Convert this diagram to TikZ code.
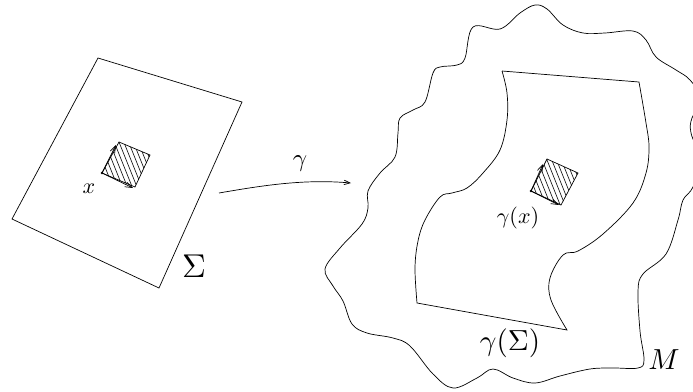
\documentclass[tikz,border=0pt]{standalone}
\usetikzlibrary{arrows.meta}
\tikzset{
  edge/.style={line width=.7pt},
  hatch/.style={line width=.6pt},
  vec/.style={-{Straight Barb[length=7pt,width=5pt]},line width=.7pt},
  map/.style={-{Straight Barb[length=6pt,width=4.5pt]},line width=.7pt},
  lbl/.style={inner sep=0pt}
}

\begin{document}
\begin{tikzpicture}[x=1pt,y=-1pt]
        \useasboundingbox (0,0) rectangle (693,391);
        \clip (0,0) rectangle (693,391);
        % parameter domain
        \draw[edge] (98,58) -- (242,102) -- (159,288) -- (12,219) -- cycle;
        \coordinate (p0) at (102,173); \coordinate (p1) at (119,142);
        \coordinate (p2) at (150,155); \coordinate (p3) at (135,187);
        \coordinate (pu) at (116,145); \coordinate (pv) at (133,188);
        \begin{scope}
          \clip (p0) -- (p1) -- (p2) -- (p3) -- cycle;
          \foreach \i in {-6,...,12} \draw[hatch] (95+\i*4.8,130) -- ++(26,65);
        \end{scope}
        \draw[edge] (p0) -- (p1) -- (p2) -- (p3) -- cycle;
        \fill (p0) circle (1.3pt);
        \draw[vec] (p0) -- (pu); \draw[vec] (p0) -- (pv);
        \node[lbl,scale=2.2] (xlab) at (89,189) {$x$};
        \node[lbl,scale=3.3] (sigma) at (194,266) {$\Sigma$};
        % the map
        \coordinate (mapfrom) at (219,193); \coordinate (mapto) at (351,183);
        \draw[map] (mapfrom) .. controls (265,185) and (305,179) .. (mapto);
        \node[lbl,scale=2.5] (gam) at (300,164) {$\gamma$};
        % manifold
        \draw[edge] plot[smooth cycle,tension=.6] coordinates {
          (473,27) (500,29) (520,13) (535,5) (547,9) (563,25) (583,33) (605,33)
          (633,31) (646,40) (656,57) (676,70) (690,80) (702,100) (692,118) (691,133)
          (700,160) (693,187) (683,200) (678,220) (666,254) (643,274) (638,291)
          (640,331) (644,360) (638,368) (613,368) (590,369) (560,376) (535,383)
          (513,378) (493,369) (477,378) (453,388) (433,374) (410,346) (393,338)
          (367,333) (352,324) (343,301) (333,286) (325,269) (340,248) (362,224)
          (368,208) (368,191) (380,173) (395,157) (398,133) (400,118) (413,110)
          (425,102) (433,73) (440,67) (457,65) (465,58)};
        % image of the domain
        \draw[edge] (502,71) -- (639,82)
          -- plot[smooth,tension=.6] coordinates {(639,82) (646,123) (649,147) (646,173)
             (633,203) (603,234) (578,251) (563,255) (550,278) (551,300) (567,330)}
          -- (417,303)
          -- plot[smooth,tension=.6] coordinates {(417,303) (415,268) (418,241) (425,220)
             (440,197) (452,193) (467,188) (483,173) (500,150) (507,120) (507,93) (502,71)};
        \coordinate (q0) at (531,191); \coordinate (q1) at (547,159);
        \coordinate (q2) at (578,173); \coordinate (q3) at (561,205);
        \coordinate (qu) at (543,164); \coordinate (qv) at (559,205);
        \begin{scope}
          \clip (q0) -- (q1) -- (q2) -- (q3) -- cycle;
          \foreach \i in {-6,...,12} \draw[hatch] (523+\i*4.8,148) -- ++(26,65);
        \end{scope}
        \draw[edge] (q0) -- (q1) -- (q2) -- (q3) -- cycle;
        \fill (q0) circle (1.3pt);
        \draw[vec] (q0) -- (qu); \draw[vec] (q0) -- (qv);
        \node[lbl,scale=2.2] (gamx) at (518,218) {$\gamma(x)$};
        \node[lbl,scale=2.9] (gamsigma) at (510,343) {$\gamma(\Sigma)$};
        \node[lbl,scale=2.9] (mfd) at (664,360) {$M$};
      \end{tikzpicture}
\end{document}
